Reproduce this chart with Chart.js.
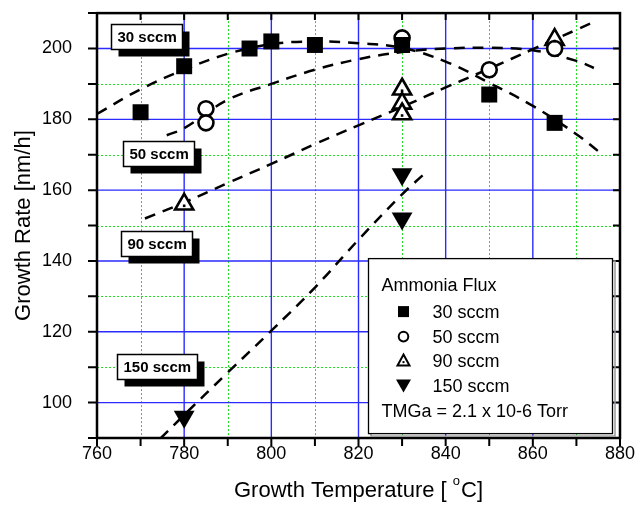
<!DOCTYPE html>
<html>
<head>
<meta charset="utf-8">
<script src="https://cdn.jsdelivr.net/npm/chart.js@4.4.1/dist/chart.umd.min.js"></script>
<style>
  html, body { margin: 0; padding: 0; background: #fff; }
</style>
</head>
<body>
<canvas id="chart" width="635" height="517"></canvas>
<script>
// Measured growth rates (temperature in degC, rate in nm/h)
const seriesNames = ['30 sccm', '50 sccm', '90 sccm', '150 sccm'];

const temp30 = [770, 780, 795, 800, 810, 830, 850, 865];
const rate30 = [182, 195, 200, 202, 201, 201, 187, 179];
const temp50 = [785, 785, 830, 850, 865];
const rate50 = [183, 179, 203, 194, 200];
const temp90 = [780, 830, 830, 830, 865];
const rate90 = [156, 188.5, 184.5, 181.5, 202.5];
const temp150 = [780, 830, 830];
const rate150 = [96, 164.5, 152];

// Dashed guide curves
const fitTemp30 = [760, 770, 780, 790, 800, 810, 820, 830, 840, 850, 860, 870, 875];
const fitRate30 = [181.5, 188.5, 194, 198.5, 201.2, 202, 201.5, 200.2, 196.3, 190.3, 183.8, 175.8, 171];
const fitTemp50 = [776, 780, 790, 800, 810, 820, 830, 840, 850, 860, 870, 874];
const fitRate50 = [175.5, 177.5, 185.5, 190, 194, 197, 199, 200, 200.2, 199.5, 196.5, 194.5];
const fitTemp90 = [771, 780, 790, 800, 810, 820, 830, 840, 850, 860, 870, 874];
const fitRate90 = [152, 156.5, 162, 167.4, 173, 178.3, 183.5, 189, 194.3, 199.8, 205.3, 207.5];
const fitTemp150 = [774.5, 780, 790, 800, 810, 820, 830, 835];
const fitRate150 = [89.8, 96.5, 108.5, 120.3, 132.5, 146, 158.8, 164.5];

// Axis ticks
const tickX = [760, 780, 800, 820, 840, 860, 880];
const tickY = [100, 120, 140, 160, 180, 200];

// Tag boxes next to the curves (left/top corner, in data units)
const tagTemp = [763.2, 765.9, 765.5, 764.7];
const tagRate = [207, 173.8, 148.4, 113.7];

const FONT = "'Liberation Sans', Arial, Helvetica, sans-serif";
const blueGrid = '#2b2bff';
const greenGrid = '#1fdc1f';

function pts(xs, ys) {
  return xs.map((x, i) => ({ x: x, y: ys[i] }));
}

function fitLine(xs, ys) {
  return {
    data: pts(xs, ys),
    showLine: true,
    borderColor: '#000',
    borderWidth: 2.5,
    borderDash: [11, 8],
    pointRadius: 0,
    tension: 0.4,
    order: 2
  };
}

// small marker for the framed legend
function drawMarker(ctx, idx, x, y) {
  ctx.save();
  ctx.lineWidth = 2;
  ctx.strokeStyle = '#000';
  ctx.fillStyle = '#000';
  ctx.beginPath();
  if (idx === 0) {
    ctx.fillRect(x - 5.5, y - 5.5, 11, 11);
  } else if (idx === 1) {
    ctx.arc(x, y, 4.8, 0, Math.PI * 2);
    ctx.stroke();
  } else if (idx === 2) {
    ctx.moveTo(x, y - 6);
    ctx.lineTo(x + 6, y + 5);
    ctx.lineTo(x - 6, y + 5);
    ctx.closePath();
    ctx.stroke();
    ctx.fillRect(x - 1, y + 0.5, 2, 2);
  } else {
    ctx.moveTo(x - 7.5, y - 6);
    ctx.lineTo(x + 7.5, y - 6);
    ctx.lineTo(x, y + 7);
    ctx.closePath();
    ctx.fill();
  }
  ctx.restore();
}

const figurePlugin = {
  id: 'figure',
  beforeDatasetsDraw(chart) {
    const { ctx, chartArea: a, scales: { x, y } } = chart;
    ctx.save();
    // minor grid, green dotted
    ctx.strokeStyle = greenGrid;
    ctx.lineWidth = 1;
    ctx.setLineDash([2, 2]);
    ctx.beginPath();
    for (let v = 770; v < 880; v += 20) {
      const px = Math.round(x.getPixelForValue(v)) + 0.5;
      ctx.moveTo(px, a.top); ctx.lineTo(px, a.bottom);
    }
    for (let v = 110; v < 210; v += 20) {
      const py = Math.round(y.getPixelForValue(v)) + 0.5;
      ctx.moveTo(a.left, py); ctx.lineTo(a.right, py);
    }
    ctx.stroke();
    // major grid, blue solid
    ctx.setLineDash([]);
    ctx.strokeStyle = blueGrid;
    ctx.lineWidth = 1.4;
    ctx.beginPath();
    for (let v = 780; v < 880; v += 20) {
      const px = x.getPixelForValue(v);
      ctx.moveTo(px, a.top); ctx.lineTo(px, a.bottom);
    }
    for (let v = 100; v <= 200; v += 20) {
      const py = y.getPixelForValue(v);
      ctx.moveTo(a.left, py); ctx.lineTo(a.right, py);
    }
    ctx.stroke();
    ctx.restore();
  },
  afterDatasetsDraw(chart) {
    const { ctx, chartArea: a, scales: { x, y } } = chart;
    ctx.save();

    // dot inside the open triangles
    const meta90 = chart.getDatasetMeta(6);
    ctx.fillStyle = '#000';
    meta90.data.forEach(p => {
      ctx.fillRect(p.x - 1.3, p.y + 0.2, 2.6, 2.6);
    });

    // frame and tick marks
    ctx.strokeStyle = '#000';
    ctx.lineWidth = 2;
    ctx.beginPath();
    for (let v = 760; v <= 880; v += 10) {
      const px = x.getPixelForValue(v);
      ctx.moveTo(px, a.bottom); ctx.lineTo(px, a.bottom + 8);
      ctx.moveTo(px, a.top); ctx.lineTo(px, a.top + 7);
    }
    for (let v = 90; v <= 210; v += 10) {
      const py = y.getPixelForValue(v);
      ctx.moveTo(a.left - 9, py); ctx.lineTo(a.left, py);
      ctx.moveTo(a.right - 7, py); ctx.lineTo(a.right, py);
    }
    ctx.stroke();
    ctx.lineWidth = 2.5;
    ctx.strokeRect(a.left, a.top, a.right - a.left, a.bottom - a.top);

    // tag boxes with drop shadow
    ctx.font = 'bold 15px ' + FONT;
    ctx.textBaseline = 'middle';
    seriesNames.forEach((name, i) => {
      const bx = Math.round(x.getPixelForValue(tagTemp[i])) + 0.5;
      const by = Math.round(y.getPixelForValue(tagRate[i])) + 0.5;
      const w = Math.round(ctx.measureText(name).width + 12), h = 25;
      ctx.fillStyle = '#000';
      ctx.fillRect(bx + 7, by + 7, w, h);
      ctx.fillStyle = '#fff';
      ctx.fillRect(bx, by, w, h);
      ctx.lineWidth = 1.5;
      ctx.strokeRect(bx, by, w, h);
      ctx.fillStyle = '#000';
      ctx.fillText(name, bx + 6, by + h / 2 + 1);
    });

    // framed legend
    const lx = a.left + 271.5, ly = a.top + 245.5, lw = 244, lh = 175;
    ctx.strokeStyle = '#999';
    ctx.lineWidth = 1.5;
    ctx.strokeRect(lx + 2.5, ly + 2.5, lw, lh);
    ctx.fillStyle = '#fff';
    ctx.fillRect(lx, ly, lw, lh);
    ctx.strokeStyle = '#000';
    ctx.lineWidth = 1.3;
    ctx.strokeRect(lx, ly, lw, lh);
    ctx.font = '18px ' + FONT;
    ctx.fillStyle = '#000';
    ctx.textAlign = 'left';
    ctx.fillText('Ammonia Flux', lx + 13, ly + 27);
    const rowY = [53, 78, 102, 127];
    seriesNames.forEach((name, i) => {
      drawMarker(ctx, i, lx + 35, ly + rowY[i]);
      ctx.fillStyle = '#000';
      ctx.fillText(name, lx + 64, ly + rowY[i] + 1);
    });
    ctx.fillText('TMGa = 2.1 x 10-6 Torr', lx + 13, ly + 153);

    // axis titles
    ctx.font = '22px ' + FONT;
    const xt = 'Growth Temperature [ ', xe = 'C]';
    const w1 = ctx.measureText(xt).width, w2 = ctx.measureText(xe).width;
    ctx.font = '13px ' + FONT;
    const ws = ctx.measureText('o').width + 1;
    const total = w1 + ws + w2;
    const tx = (a.left + a.right) / 2 - total / 2;
    const ty = 491;
    ctx.textAlign = 'left';
    ctx.font = '22px ' + FONT;
    ctx.fillText(xt, tx, ty);
    ctx.font = '13px ' + FONT;
    ctx.fillText('o', tx + w1, ty - 10);
    ctx.font = '22px ' + FONT;
    ctx.fillText(xe, tx + w1 + ws, ty);

    ctx.translate(24, (a.top + a.bottom) / 2);
    ctx.rotate(-Math.PI / 2);
    ctx.textAlign = 'center';
    ctx.fillText('Growth Rate [nm/h]', 0, 0);
    ctx.restore();
  }
};

new Chart(document.getElementById('chart').getContext('2d'), {
  type: 'scatter',
  data: {
    datasets: [
      fitLine(fitTemp30, fitRate30),
      fitLine(fitTemp50, fitRate50),
      fitLine(fitTemp90, fitRate90),
      fitLine(fitTemp150, fitRate150),
      {
        label: seriesNames[0],
        data: pts(temp30, rate30),
        pointStyle: 'rect',
        pointRadius: 11.3,
        backgroundColor: '#000',
        borderColor: '#000',
        borderWidth: 0,
        order: 1
      },
      {
        label: seriesNames[1],
        data: pts(temp50, rate50),
        pointStyle: 'circle',
        pointRadius: 7.5,
        backgroundColor: '#fff',
        borderColor: '#000',
        borderWidth: 2.6,
        order: 1
      },
      {
        label: seriesNames[2],
        data: pts(temp90, rate90),
        pointStyle: 'triangle',
        pointRadius: 10.5,
        backgroundColor: '#fff',
        borderColor: '#000',
        borderWidth: 2.6,
        order: 1
      },
      {
        label: seriesNames[3],
        data: pts(temp150, rate150),
        pointStyle: 'triangle',
        rotation: 180,
        pointRadius: 12,
        backgroundColor: '#000',
        borderColor: '#000',
        borderWidth: 0,
        order: 1
      }
    ]
  },
  options: {
    responsive: false,
    animation: false,
    devicePixelRatio: 1,
    layout: { padding: { left: 0, top: 10, right: 15, bottom: 0 } },
    plugins: { legend: { display: false }, tooltip: { enabled: false } },
    scales: {
      x: {
        type: 'linear',
        min: 760,
        max: 880,
        grid: { display: false },
        border: { display: false },
        afterBuildTicks: s => { s.ticks = tickX.map(v => ({ value: v })); },
        afterFit: s => { s.height = 79; s.paddingLeft = 0; s.paddingRight = 0; },
        ticks: { color: '#000', font: { family: FONT, size: 18 }, padding: -3, maxRotation: 0 }
      },
      y: {
        type: 'linear',
        min: 90,
        max: 210,
        grid: { display: false },
        border: { display: false },
        afterBuildTicks: s => { s.ticks = tickY.map(v => ({ value: v })); },
        afterFit: s => { s.width = 97; s.paddingTop = 0; s.paddingBottom = 0; },
        ticks: { color: '#000', font: { family: FONT, size: 18 }, padding: 17 }
      }
    }
  },
  plugins: [figurePlugin]
});
</script>
</body>
</html>
